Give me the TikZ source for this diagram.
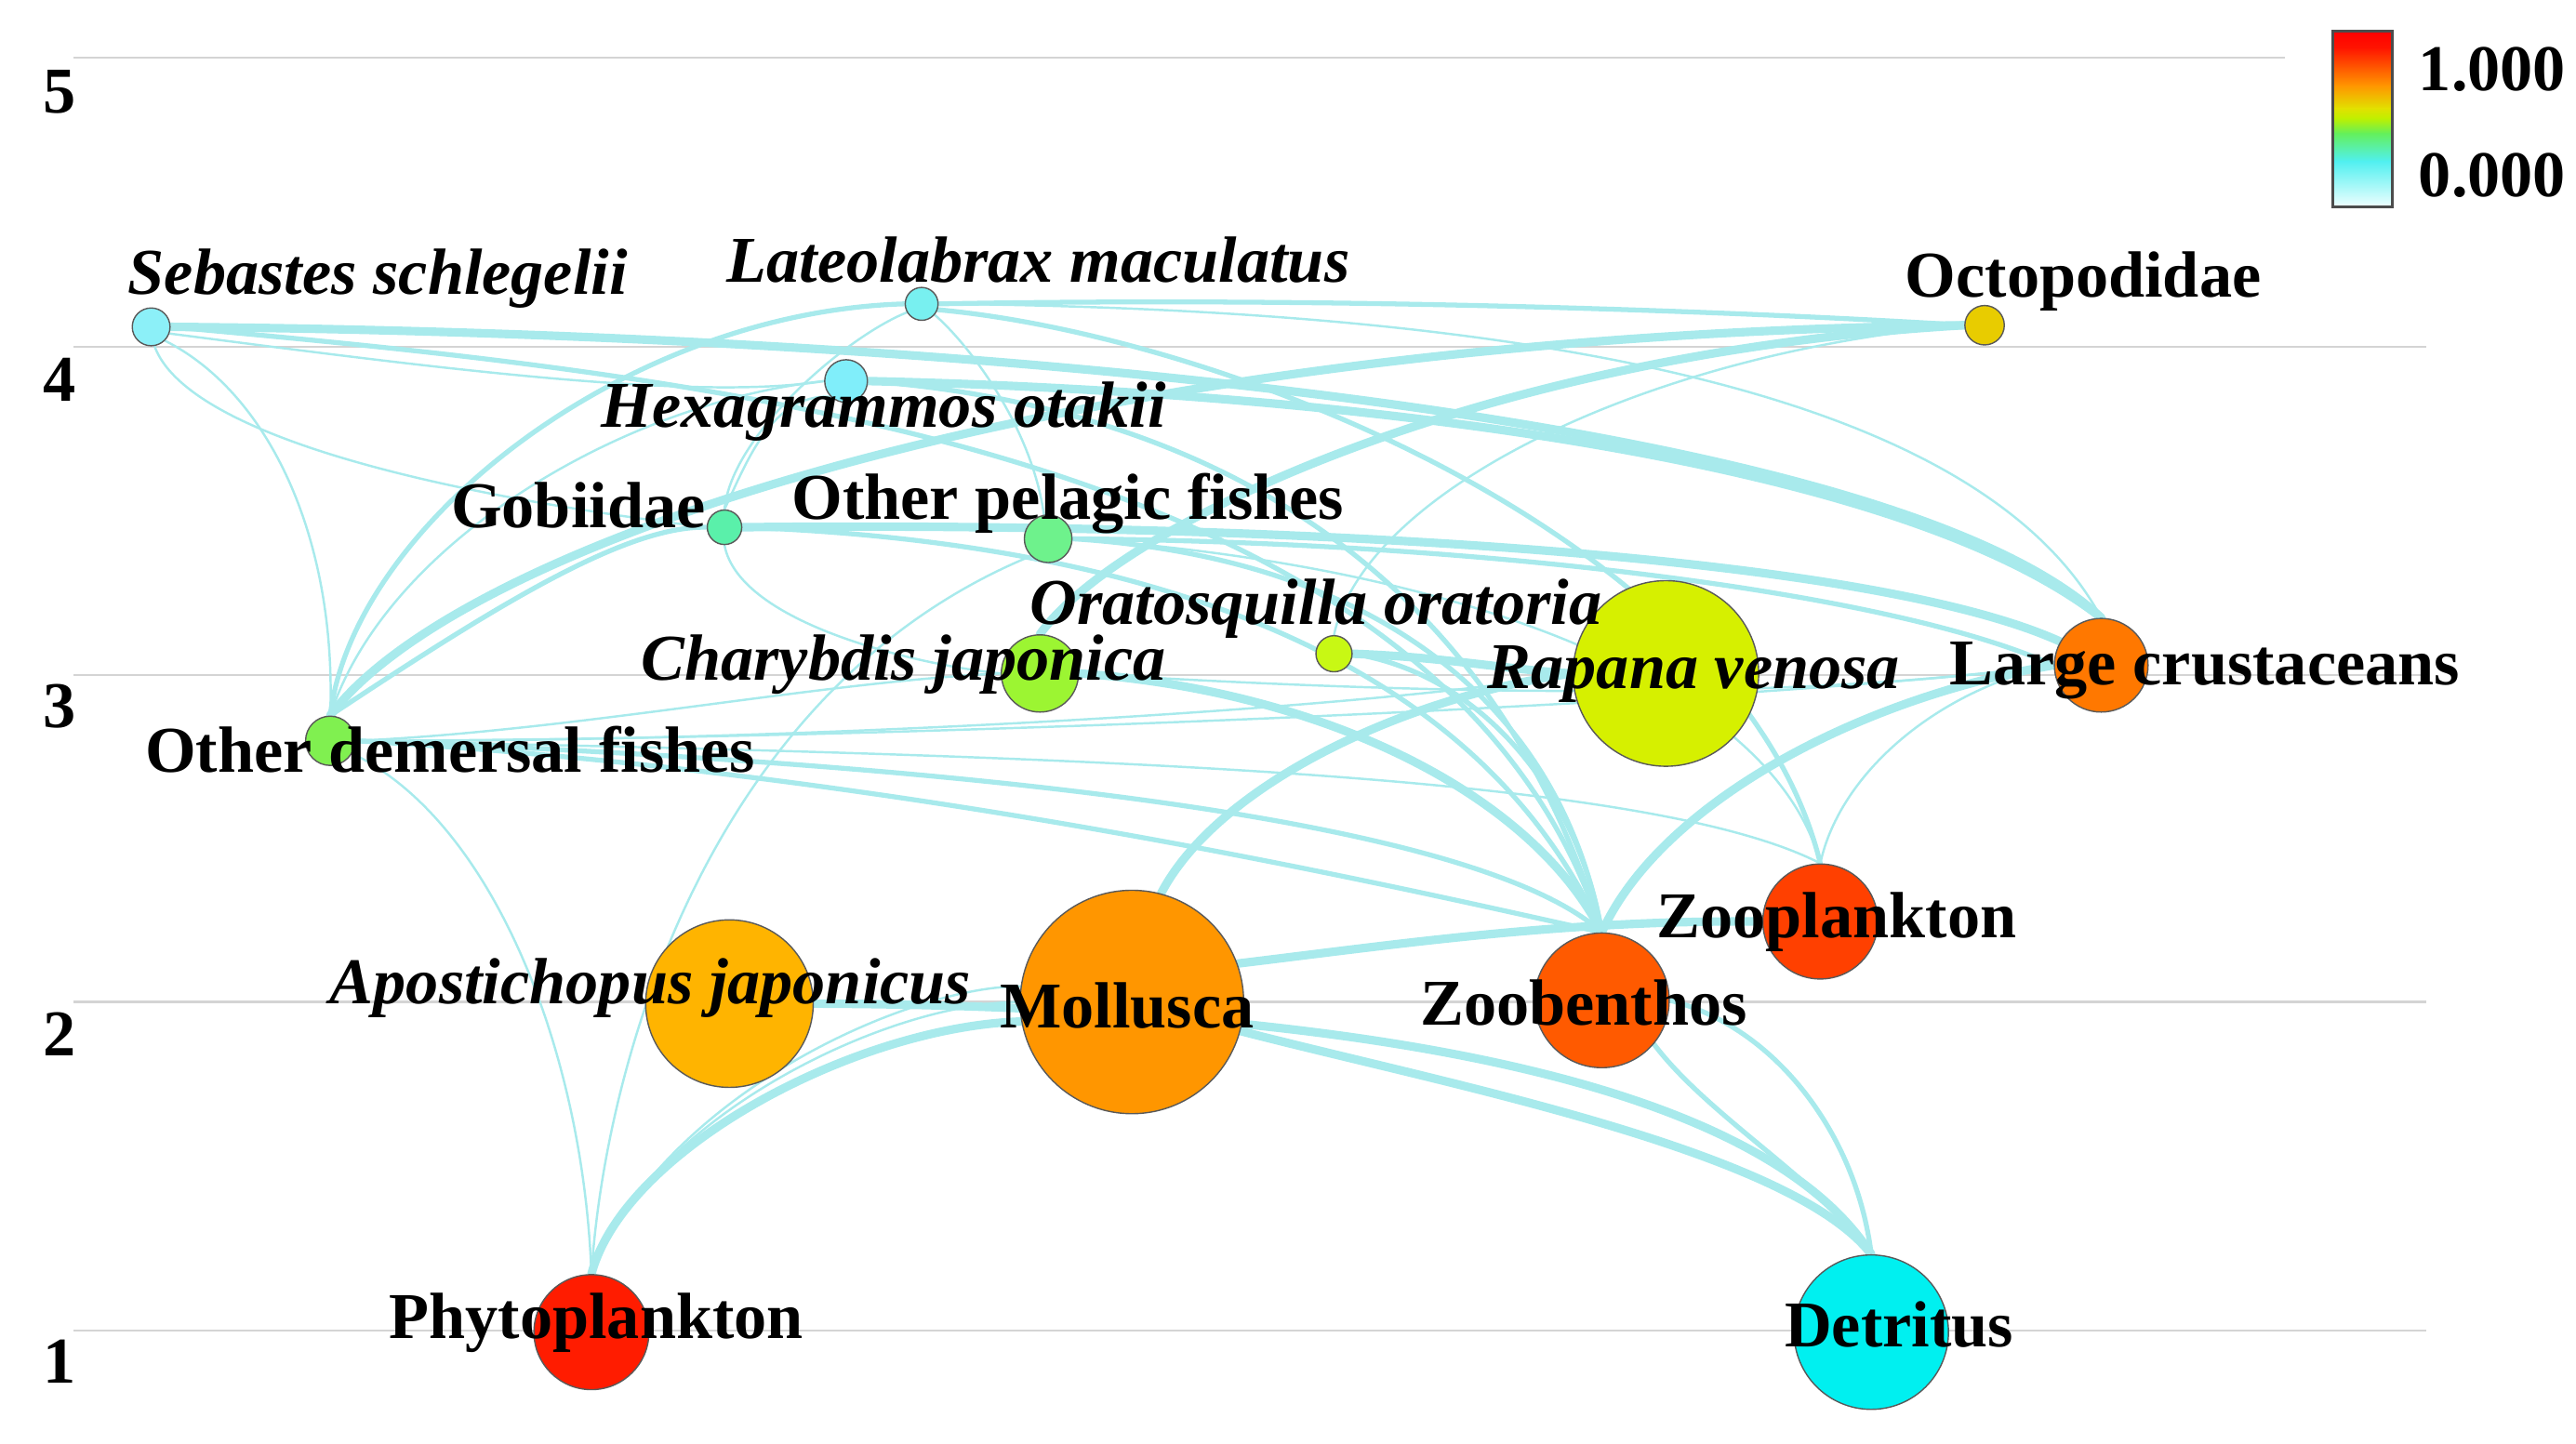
\documentclass[tikz,border=0pt]{standalone}
\usepackage{fontspec}
\setmainfont{Liberation Serif}
\definecolor{edgec}{RGB}{168,234,236}
\definecolor{gridc}{RGB}{212,212,212}
\definecolor{cSeb}{RGB}{140,240,248}
\definecolor{cLat}{RGB}{120,240,240}
\definecolor{cOct}{RGB}{232,204,0}
\definecolor{cHex}{RGB}{128,238,250}
\definecolor{cGob}{RGB}{90,240,170}
\definecolor{cOpf}{RGB}{110,242,140}
\definecolor{cOra}{RGB}{200,248,20}
\definecolor{cCha}{RGB}{156,245,50}
\definecolor{cRap}{RGB}{214,240,0}
\definecolor{cLc}{RGB}{255,120,0}
\definecolor{cOdf}{RGB}{128,240,80}
\definecolor{cZp}{RGB}{255,64,0}
\definecolor{cZb}{RGB}{255,90,0}
\definecolor{cMol}{RGB}{255,150,0}
\definecolor{cApo}{RGB}{255,180,0}
\definecolor{cPhy}{RGB}{255,28,0}
\definecolor{cDet}{RGB}{0,240,240}
\pgfdeclarelayer{bg}
\pgfdeclarelayer{edgel}
\pgfsetlayers{bg,edgel,main}
\begin{document}
\begin{tikzpicture}[x=0.017666cm,y=-0.017666cm,
  nd/.style={circle,draw=black!65,line width=0.4pt,inner sep=0pt,minimum size=#1*0.035332cm},
  lab/.style={anchor=base,inner sep=0pt,font=\fontsize{20}{24}\selectfont\bfseries},
  ilab/.style={lab,font=\fontsize{20}{24}\selectfont\bfseries\itshape},
  e/.style={draw=edgec,line cap=round},
  w1/.style={line width=0.7pt},
  w2/.style={line width=1.5pt},
  w3/.style={line width=2.6pt},
  grid/.style={draw=gridc,line width=0.7pt}]
\useasboundingbox (0,0) rectangle (1568,879);

% grid lines and level numbers
\begin{pgfonlayer}{bg}
\draw[grid] (45,35) -- (1391,35);
\draw[grid] (45,211) -- (1477,211);
\draw[grid] (45,411) -- (1477,411);
\draw[grid] (45,610) -- (1477,610);
\draw[grid] (45,810) -- (1477,810);
\end{pgfonlayer}
\node[lab] (l5) at (36,69) {5};
\node[lab] (l4) at (36,244) {4};
\node[lab] (l3) at (36,443) {3};
\node[lab] (l2) at (36,643) {2};
\node[lab] (l1) at (36,842) {1};

% nodes
\node[nd=11.5,fill=cSeb] (seb) at (92,199) {};
\node[nd=10,fill=cLat] (lat) at (561,185) {};
\node[nd=12,fill=cOct] (oct) at (1208,198) {};
\node[nd=13,fill=cHex] (hex) at (515,232) {};
\node[nd=10.5,fill=cGob] (gob) at (441,321) {};
\node[nd=14.5,fill=cOpf] (opf) at (638,328) {};
\node[nd=11,fill=cOra] (ora) at (812,398) {};
\node[nd=23.5,fill=cCha] (cha) at (633,410) {};
\node[nd=56.5,fill=cRap] (rap) at (1014,410) {};
\node[nd=28.5,fill=cLc] (lc) at (1279,405) {};
\node[nd=15,fill=cOdf] (odf) at (201,451) {};
\node[nd=35,fill=cZp] (zp) at (1108,561) {};
\node[nd=41,fill=cZb] (zb) at (975,609) {};
\node[nd=68,fill=cMol] (mol) at (689,610) {};
\node[nd=51,fill=cApo] (apo) at (444,611) {};
\node[nd=35,fill=cPhy] (phy) at (360,811) {};
\node[nd=47,fill=cDet] (det) at (1139,811) {};

% edges
\begin{pgfonlayer}{edgel}
% Sebastes schlegelii
\draw[e,w3] (seb.east) .. controls (600,203) and (1150,255) .. (lc.north);
\draw[e,w2] (seb.east) .. controls (420,228) and (880,270) .. (zb.north);
\draw[e,w1] (seb.-20) .. controls (250,222) and (420,245) .. (hex.west);
\draw[e,w1] (seb.-80) .. controls (110,255) and (220,295) .. (gob.west);
\draw[e,w1] (seb.-45) .. controls (165,240) and (205,330) .. (odf.north);
% Lateolabrax maculatus
\draw[e,w2] (odf.north) .. controls (215,320) and (380,190) .. (lat.west);
\draw[e,w2] (lat.east) .. controls (850,180) and (1100,192) .. (oct.west);
\draw[e,w1] (lat.east) .. controls (900,188) and (1200,230) .. (lc.north);
\draw[e,w2] (lat.-20) .. controls (750,205) and (1060,330) .. (zp.north);
\draw[e,w1] (gob.north) .. controls (445,265) and (515,205) .. (lat.-150);
\draw[e,w1] (opf.100) .. controls (628,260) and (590,210) .. (lat.-40);
% Octopodidae
\draw[e,w3] (odf.north) .. controls (280,330) and (650,205) .. (oct.west);
\draw[e,w3] (cha.north) .. controls (680,320) and (900,215) .. (oct.west);
\draw[e,w1] (ora.north) .. controls (830,300) and (1000,215) .. (oct.west);
% Hexagrammos otakii
\draw[e,w3] (hex.east) .. controls (800,238) and (1150,275) .. (lc.north);
\draw[e,w2] (hex.east) .. controls (700,245) and (900,320) .. (zb.north);
\draw[e,w1] (odf.north) .. controls (235,330) and (380,245) .. (hex.west);
\draw[e,w1] (gob.north) .. controls (455,280) and (470,240) .. (hex.south west);
% Gobiidae
\draw[e,w2] (odf.north) .. controls (300,370) and (380,320) .. (gob.west);
\draw[e,w3] (gob.east) .. controls (700,318) and (1120,330) .. (lc.150);
\draw[e,w2] (gob.east) .. controls (700,330) and (900,400) .. (zb.north);
\draw[e,w1] (gob.south) .. controls (450,380) and (560,405) .. (cha.west);
% Other pelagic fishes
\draw[e,w2] (opf.east) .. controls (900,330) and (1150,360) .. (lc.west);
\draw[e,w2] (opf.east) .. controls (840,340) and (950,430) .. (zb.north);
\draw[e,w1] (opf.east) .. controls (900,345) and (1080,420) .. (zp.north);
\draw[e,w1] (phy.north) .. controls (368,650) and (430,420) .. (opf.south west);
% Charybdis japonica
\draw[e,w3] (cha.east) .. controls (800,420) and (930,480) .. (zb.north);
\draw[e,w1] (odf.east) .. controls (350,445) and (500,415) .. (cha.west);
\draw[e,w1] (cha.east) .. controls (900,425) and (1100,425) .. (lc.west);
% Oratosquilla oratoria
\draw[e,w2] (ora.east) .. controls (900,410) and (960,480) .. (zb.north);
\draw[e,w3] (ora.east) .. controls (880,400) and (920,408) .. (rap.west);
% Rapana venosa, Large crustaceans
\draw[e,w3] (mol.75) .. controls (740,480) and (850,425) .. (rap.west);
\draw[e,w3] (zb.north) .. controls (1010,490) and (1130,425) .. (lc.west);
\draw[e,w1] (zp.north) .. controls (1120,470) and (1180,420) .. (lc.west);
% Other demersal fishes
\draw[e,w1] (odf.east) .. controls (500,452) and (850,430) .. (rap.west);
\draw[e,w1] (odf.east) .. controls (600,450) and (1100,425) .. (lc.west);
\draw[e,w2] (odf.east) .. controls (600,465) and (900,500) .. (zb.north);
\draw[e,w2] (odf.east) .. controls (550,470) and (850,540) .. (zb.north);
\draw[e,w1] (odf.east) .. controls (650,460) and (1000,470) .. (zp.north);
% Phytoplankton, Detritus
\draw[e,w3] (phy.north) .. controls (380,700) and (520,625) .. (mol.190);
\draw[e,w1] (phy.north) .. controls (395,680) and (540,610) .. (mol.180);
\draw[e,w1] (phy.north) .. controls (405,665) and (555,600) .. (mol.172);
\draw[e,w1] (phy.north) .. controls (355,640) and (300,500) .. (odf.-30);
\draw[e,w3] (mol.20) .. controls (850,575) and (950,560) .. (zp.west);
\draw[e,w3] (apo.east) .. controls (750,612) and (1060,640) .. (det.north);
\draw[e,w3] (mol.-15) .. controls (880,660) and (1090,700) .. (det.north);
\draw[e,w2] (zb.east) .. controls (1080,625) and (1130,690) .. (det.north);
\draw[e,w2] (zb.-40) .. controls (1040,680) and (1110,720) .. (det.north);
\end{pgfonlayer}

% labels
\node[ilab] (tseb) at (230,179) {Sebastes schlegelii};
\node[ilab] (tlat) at (632,172) {Lateolabrax maculatus};
\node[lab] (toct) at (1268,181) {Octopodidae};
\node[ilab] (thex) at (538,260) {Hexagrammos otakii};
\node[lab] (tgob) at (352,321) {Gobiidae};
\node[lab] (topf) at (650,316) {Other pelagic fishes};
\node[ilab] (tora) at (801,380) {Oratosquilla oratoria};
\node[ilab] (tcha) at (550,414) {Charybdis japonica};
\node[ilab] (trap) at (1031,419) {Rapana venosa};
\node[lab] (tlc) at (1342,417) {Large crustaceans};
\node[lab] (todf) at (274,470) {Other demersal fishes};
\node[lab] (tzp) at (1118,571) {Zooplankton};
\node[lab] (tzb) at (964,624) {Zoobenthos};
\node[ilab] (tapo) at (396,611) {Apostichopus japonicus};
\node[lab] (tmol) at (686,626) {Mollusca};
\node[lab] (tphy) at (363,815) {Phytoplankton};
\node[lab] (tdet) at (1156,820) {Detritus};

% colour legend
\shade[top color={rgb,255:red,255;green,0;blue,0},bottom color={rgb,255:red,255;green,20;blue,0}] (1420,19) rectangle (1456,29.3);
\shade[top color={rgb,255:red,255;green,20;blue,0},bottom color={rgb,255:red,255;green,150;blue,0}] (1420,29) rectangle (1456,52.3);
\shade[top color={rgb,255:red,255;green,150;blue,0},bottom color={rgb,255:red,225;green,225;blue,0}] (1420,52) rectangle (1456,66.3);
\shade[top color={rgb,255:red,225;green,225;blue,0},bottom color={rgb,255:red,190;green,240;blue,0}] (1420,66) rectangle (1456,72.3);
\shade[top color={rgb,255:red,190;green,240;blue,0},bottom color={rgb,255:red,100;green,240;blue,90}] (1420,72) rectangle (1456,81.3);
\shade[top color={rgb,255:red,100;green,240;blue,90},bottom color={rgb,255:red,80;green,240;blue,240}] (1420,81) rectangle (1456,98.3);
\shade[top color={rgb,255:red,80;green,240;blue,240},bottom color={rgb,255:red,240;green,255;blue,255}] (1420,98) rectangle (1456,126);
\draw[black!70,line width=0.8pt] (1420,19) rectangle (1456,126);
\node[lab] (lmax) at (1517,55) {1.000};
\node[lab] (lmin) at (1517,120) {0.000};
\end{tikzpicture}
\end{document}
